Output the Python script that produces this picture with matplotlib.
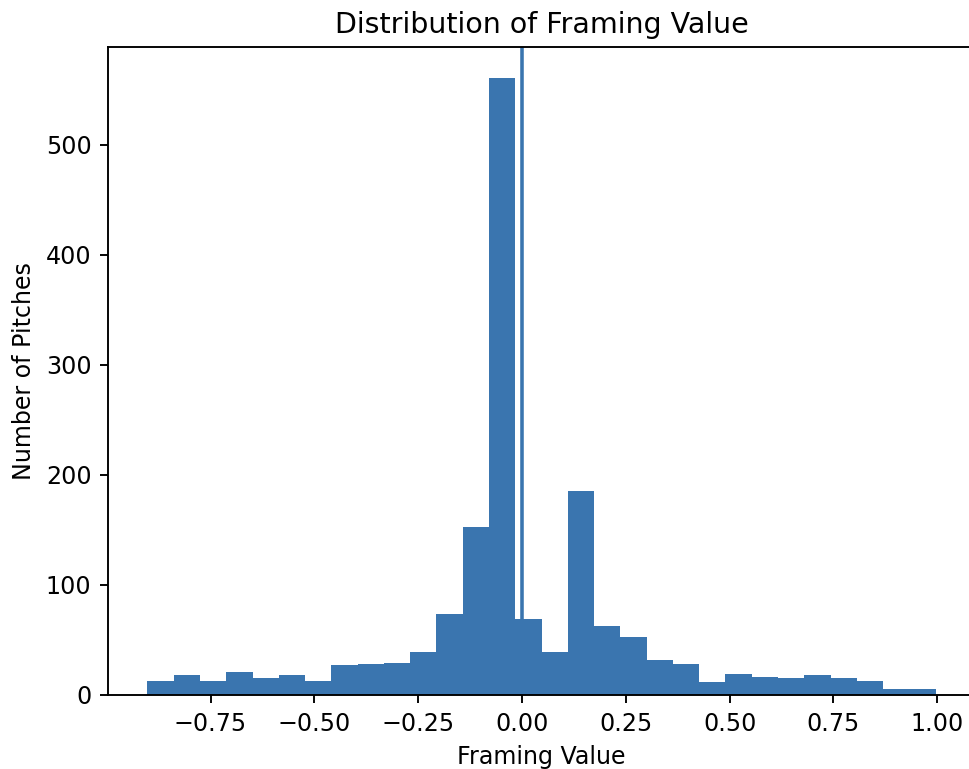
import numpy as np
import matplotlib
matplotlib.use("Agg")
import matplotlib.pyplot as plt

# histogram counts (30 bins)
bin_lo, bin_hi = -0.902, 0.996
counts = [13, 18, 13, 21, 15, 18, 13, 27, 28, 29,
          39, 74, 153, 561, 69, 39, 185, 63, 53, 32,
          28, 12, 19, 16, 15, 18, 15, 13, 5, 5]

edges = np.linspace(bin_lo, bin_hi, len(counts) + 1)
centers = (edges[:-1] + edges[1:]) / 2

bar_color = '#3a75af'

dpi = 171
fig = plt.figure(figsize=(969 / dpi, 769 / dpi), dpi=dpi)
ax = fig.add_axes([108 / 969, 74 / 769, 867 / 969, 648 / 769])

ax.hist(centers, bins=edges, weights=counts, color=bar_color)
ax.axvline(0, color=bar_color)

ax.set_title('Distribution of Framing Value')
ax.set_xlabel('Framing Value')
ax.set_ylabel('Number of Pitches')

fig.savefig('out.png', dpi=dpi)
